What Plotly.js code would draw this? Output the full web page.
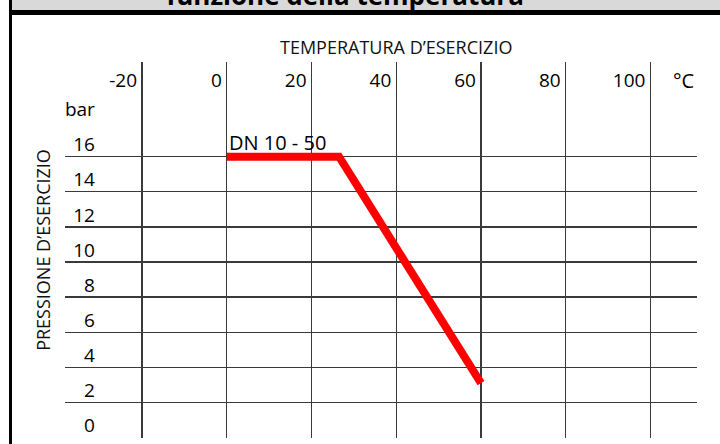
<!DOCTYPE html>
<html><head><meta charset="utf-8">
<script src="https://cdn.plot.ly/plotly-3.0.1.min.js"></script>
<style>html,body{margin:0;padding:0;background:#fff;}#chart{width:720px;height:444px;}</style>
</head><body><div id="chart"></div>
<script>
// ---- data ----
const temperatureTicks = [-20, 0, 20, 40, 60, 80, 100];
const temperatureLabels = ['-20', '0', '20', '40', '60', '80', '100'];
const pressureTicks = [0, 2, 4, 6, 8, 10, 12, 14, 16, 18];
const pressureLabels = ['0', '2', '4', '6', '8', '10', '12', '14', '16', 'bar'];
const pressureGrid = [2, 4, 6, 8, 10, 12, 14, 16];
const curveTemperature = [0, 26.5, 60];
const curvePressure = [16, 16, 3.1];
const curveName = 'DN 10 - 50';
const chartTitle = 'funzione della temperatura';
const xTitle = 'TEMPERATURA D\u2019ESERCIZIO';
const yTitle = 'PRESSIONE D\u2019ESERCIZIO';
const unitLabel = '\u00B0C';

// ---- geometry ----
const W = 720, H = 444, L = 65, R = 23, T = 62, B = 6;
const PW = W - L - R, PH = H - T - B;
const px = x => (x - L) / PW;
const py = y => (H - B - y) / PH;
const xRange = [-38.2, 111.0];
const yRange = [-0.03, 21.4];

const FONT = 'Open Sans, Noto Sans, sans-serif';
const tickFont = {family: FONT, size: 19, color: '#000'};
const gridColor = '#3a3a3a';

const traces = [
  {
    type: 'scatter', mode: 'lines',
    x: curveTemperature, y: curvePressure,
    line: {color: '#ff0000', width: 8},
    hoverinfo: 'skip', showlegend: false
  },
  { // invisible companion so the pressure label axis is drawn
    type: 'scatter', mode: 'lines', yaxis: 'y2',
    x: curveTemperature, y: curvePressure,
    line: {color: 'rgba(0,0,0,0)', width: 0}, opacity: 0,
    hoverinfo: 'skip', showlegend: false
  }
];

const layout = {
  width: W, height: H,
  margin: {l: L, r: R, t: T, b: B, pad: 0},
  paper_bgcolor: '#ffffff', plot_bgcolor: 'rgba(0,0,0,0)',
  showlegend: false,
  title: {
    text: chartTitle,
    font: {family: FONT, size: 26, color: '#000', weight: 700},
    xref: 'container', x: 345 / W, xanchor: 'center',
    yref: 'container', y: 1 - 5 / H, yanchor: 'bottom'
  },
  xaxis: {
    range: xRange, side: 'top',
    tickmode: 'array', tickvals: temperatureTicks, ticktext: temperatureLabels,
    ticks: '', ticklabelposition: 'inside left',
    ticklabelshift: -5, ticklabelstandoff: 6,
    tickfont: tickFont,
    showgrid: true, gridcolor: gridColor, gridwidth: 1.3,
    zeroline: false, showline: false, fixedrange: true
  },
  yaxis: {
    range: yRange,
    tickmode: 'array', tickvals: pressureGrid,
    showticklabels: false, ticks: '',
    showgrid: true, gridcolor: gridColor, gridwidth: 1.3,
    zeroline: false, showline: false, fixedrange: true,
    title: {text: yTitle, font: {family: FONT, size: 18, color: '#111'}, standoff: 8}
  },
  yaxis2: {
    range: yRange, overlaying: 'y', side: 'left',
    anchor: 'free', position: 0.0473,
    tickmode: 'array', tickvals: pressureTicks, ticktext: pressureLabels,
    ticks: '', ticklabelshift: -12, ticklabelstandoff: 0,
    tickfont: tickFont,
    showgrid: false, zeroline: false, showline: false, fixedrange: true
  },
  annotations: [
    {text: xTitle, xref: 'x', x: 40, yref: 'paper', y: py(47),
     xanchor: 'center', yanchor: 'middle', showarrow: false,
     font: {family: FONT, size: 18, color: '#111'}},
    {text: unitLabel, xref: 'x', x: 107.8, yref: 'y', y: 20.35,
     xanchor: 'center', yanchor: 'middle', showarrow: false,
     font: {family: FONT, size: 20, color: '#000'}},
    {text: curveName, xref: 'x', x: 0, yref: 'y', y: 16.81,
     xanchor: 'left', yanchor: 'middle', showarrow: false,
     font: {family: FONT, size: 20, color: '#000'}}
  ],
  shapes: [
    {type: 'rect', xref: 'paper', yref: 'paper', x0: px(12), x1: px(W), y0: py(0), y1: py(10),
     fillcolor: '#d9d9d9', line: {width: 0}, layer: 'below'},
    {type: 'rect', xref: 'paper', yref: 'paper', x0: px(9), x1: px(W), y0: py(10), y1: py(15),
     fillcolor: '#000000', line: {width: 0}, layer: 'above'},
    {type: 'rect', xref: 'paper', yref: 'paper', x0: px(9), x1: px(12), y0: py(0), y1: py(H),
     fillcolor: '#000000', line: {width: 0}, layer: 'above'}
  ]
};

Plotly.newPlot('chart', traces, layout, {staticPlot: true, displayModeBar: false});
</script>
</body></html>
